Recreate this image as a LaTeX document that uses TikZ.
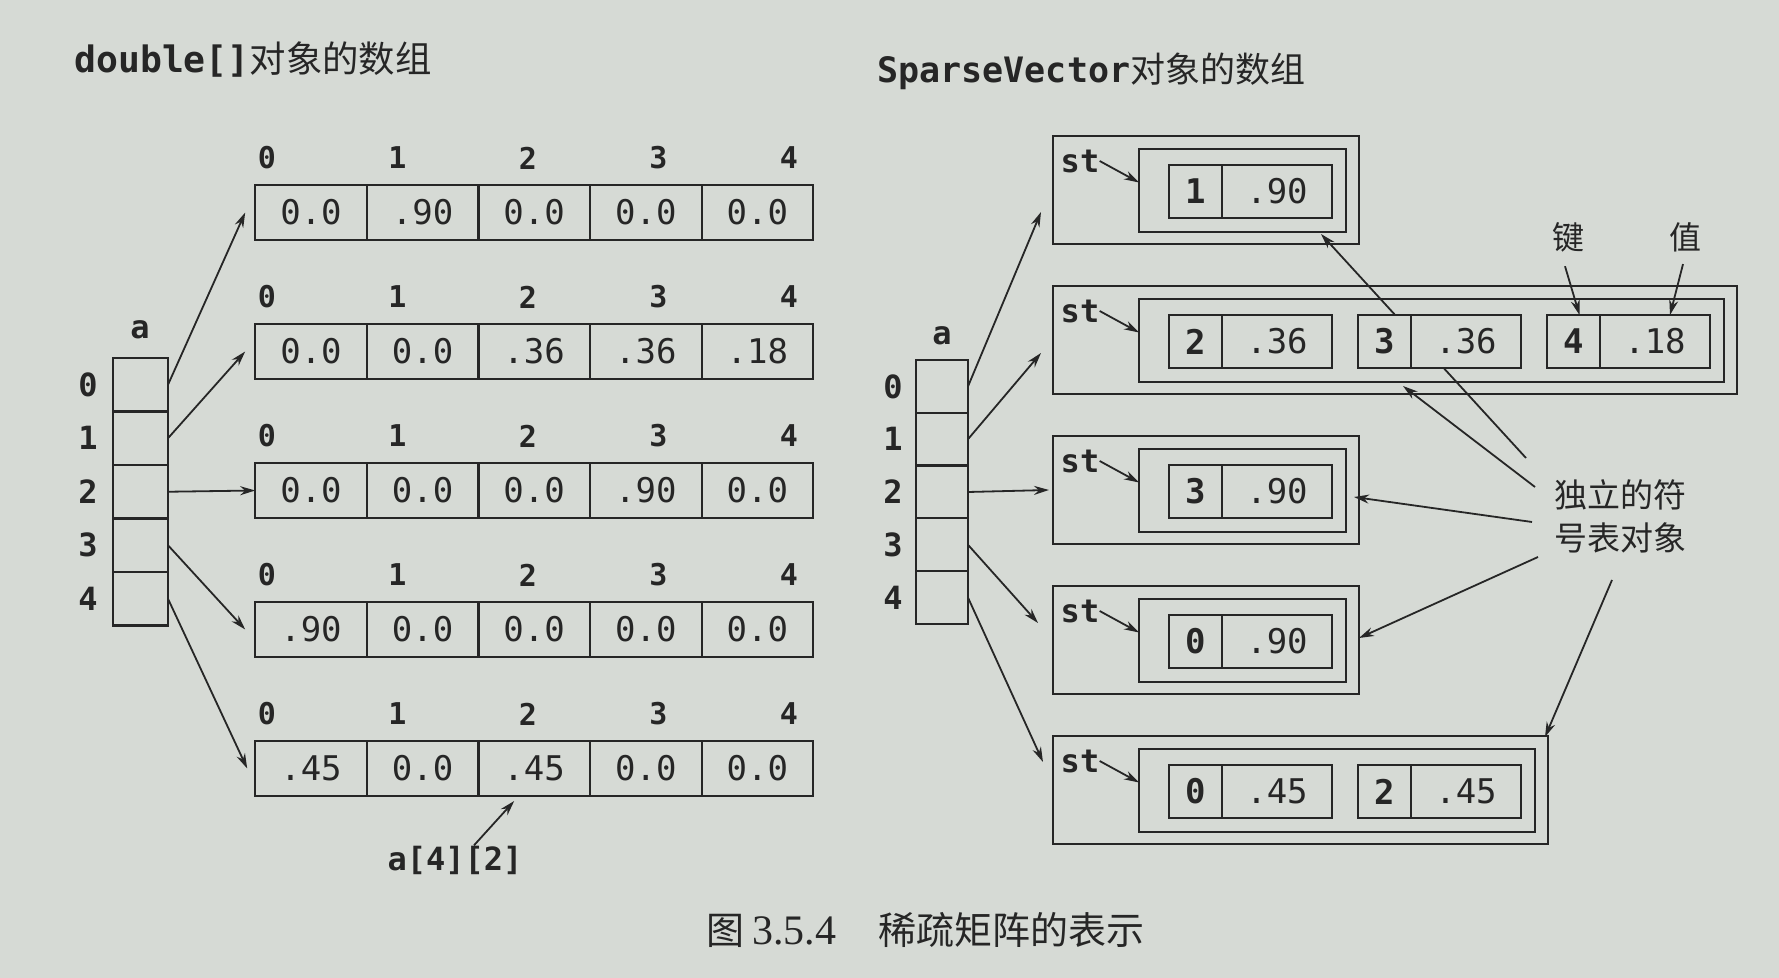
\documentclass[tikz,border=0pt]{standalone}
\usepackage{fontspec}
\newfontfamily\mono{DejaVu Sans Mono}
\newfontfamily\cjk{Noto Sans CJK SC}
\newfontfamily\capserif{Liberation Serif}
\usetikzlibrary{arrows.meta,calc}
\definecolor{bg}{RGB}{214,218,213}
\definecolor{ink}{RGB}{38,38,38}
\begin{document}
\begin{tikzpicture}[x=0.5pt,y=-0.5pt,
  every node/.style={text=ink},
  box/.style={draw=ink,line width=1.1pt,inner sep=0pt,outer sep=0pt},
  cell/.style={box,minimum width=55.8pt,minimum height=27.5pt,font=\mono\fontsize{17}{17}\selectfont},
  idx/.style={inner sep=0pt,font=\mono\bfseries\fontsize{15}{15}\selectfont},
  aidx/.style={inner sep=0pt,font=\mono\bfseries\fontsize{16}{16}\selectfont},
  lab/.style={inner sep=0pt,font=\mono\bfseries\fontsize{16}{16}\selectfont},
  ptr/.style={box,minimum width=27.5pt,minimum height=26.75pt},
  ptrb/.style={box,minimum width=26pt,minimum height=26.4pt},
  kcell/.style={box,fill=bg,minimum width=26.5pt,minimum height=26.5pt,font=\mono\bfseries\fontsize{17}{17}\selectfont},
  vcell/.style={box,fill=bg,minimum width=55pt,minimum height=26.5pt,font=\mono\fontsize{17}{17}\selectfont},
  title/.style={inner sep=0pt,font=\mono\bfseries\fontsize{17.5}{17.5}\selectfont},
  cjklab/.style={inner sep=0pt,font=\cjk\fontsize{16}{16}\selectfont},
  note/.style={inner sep=0pt,align=center,font=\cjk\fontsize{16.5}{21.5}\selectfont},
  arr/.style={draw=ink,line width=0.9pt,-{Stealth[length=7.5pt,width=4.5pt]}}
]
\fill[bg] (0,0) rectangle (1779,978);
\useasboundingbox (0,0) rectangle (1779,978);

% titles
\node[title,anchor=west,font=\mono\bfseries\fontsize{18.2}{18.2}\selectfont] (T1) at (74,60) {double[]{\cjk\mdseries 对象的数组}};
\node[title,anchor=west] (T2) at (877,71) {SparseVector{\cjk\mdseries 对象的数组}};

% left: double[][] arrays
\foreach \r/\vals in {0/{0.0,.90,0.0,0.0,0.0},1/{0.0,0.0,.36,.36,.18},2/{0.0,0.0,0.0,.90,0.0},3/{.90,0.0,0.0,0.0,0.0},4/{.45,0.0,.45,0.0,0.0}}{
  \foreach \v [count=\c from 0] in \vals {
    \node[cell] (L\r-\c) at ({311+111.6*\c},{212.5+139*\r}) {\v};
    \node[idx] (Li\r-\c) at ({267+130.5*\c},{158+139*\r}) {\c};
  }
}
\foreach \i in {0,...,4} {
  \node[ptr] (A\i) at (140.5,{384.75+53.5*\i}) {};
  \node[aidx] (Ai\i) at (88,{384.75+53.5*\i}) {\i};
}
\node[lab] (Aa) at (140,330) {a};
\draw[arr] (A0.east) -- ([xshift=-5pt]L0-0.west);
\draw[arr] (A1.east) -- ([xshift=-5pt]L1-0.west);
\draw[arr] (A2.east) -- (L2-0.west);
\draw[arr] (A3.east) -- ([xshift=-5pt]L3-0.west);
\draw[arr] (A4.east) -- ([xshift=-4pt]L4-0.west);
\node[lab] (Q) at (455,860) {a[4][2]};
\draw[arr] ([xshift=9.5pt]Q.north) -- ([xshift=-10pt,yshift=-2.5pt]L4-2.south);

% right: label arrows (drawn first, entries cover them)
\node[note] (T) at (1620,516) {独立的符\\号表对象};
\coordinate (t1) at (1526,458); \coordinate (e1) at (1321,234);
\coordinate (t2) at (1535,487); \coordinate (e2) at (1403,386);
\coordinate (t3) at (1532,522); \coordinate (e3) at (1354,497);
\coordinate (t4) at (1538,557); \coordinate (e4) at (1359,638);
\coordinate (t5) at (1612,580); \coordinate (e5) at (1545,737);
\foreach \j in {1,...,5} { \draw[arr] (t\j) -- (e\j); }

% right: SparseVector objects
\foreach \i/\n/\ents in {0/1/{1/.90},1/3/{2/.36,3/.36,4/.18},2/1/{3/.90},3/1/{0/.90},4/2/{0/.45,2/.45}} {
  \pgfmathsetmacro\ytop{136+150*\i}
  \pgfmathsetmacro\ow{(306+189*(\n-1))/2}
  \pgfmathsetmacro\iw{(207+189*(\n-1))/2}
  \node[box,anchor=north west,minimum width=\ow pt,minimum height=54pt] (O\i) at (1053,\ytop) {};
  \node[box,anchor=north west,minimum width=\iw pt,minimum height=41.5pt] (I\i) at (1139,{\ytop+13}) {};
  \foreach \k/\w [count=\e from 0] in \ents {
    \node[kcell,anchor=north west] (E\i-\e-k) at ({1169+189*\e},{\ytop+29}) {\k};
    \node[vcell,anchor=west] (E\i-\e-v) at (E\i-\e-k.east) {\w};
  }
  \node[lab] (S\i) at (1080,{\ytop+25}) {st};
  \draw[arr] (S\i.east) -- ([yshift=4pt]I\i.west);
}

% right pointer array
\foreach \i in {0,...,4} {
  \node[ptrb] (B\i) at (942,{386.4+52.8*\i}) {};
  \node[aidx] (Bi\i) at (893,{386.4+52.8*\i}) {\i};
}
\node[lab] (Ba) at (942,336) {a};
\draw[arr] (B0.east) -- ([xshift=-6pt,yshift=-11pt]O0.west);
\draw[arr] (B1.east) -- ([xshift=-6pt,yshift=-6.5pt]O1.west);
\draw[arr] (B2.east) -- ([xshift=-2pt]O2.west);
\draw[arr] (B3.east) -- ([xshift=-7.5pt,yshift=8.5pt]O3.west);
\draw[arr] (B4.east) -- ([xshift=-5pt,yshift=14pt]O4.west);

% key / value labels
\node[cjklab] (K) at (1568,237) {键};
\node[cjklab] (V) at (1685,237) {值};
\draw[arr] ([xshift=-1.5pt,yshift=-7pt]K.south) -- ([xshift=3pt]E1-2-k.north);
\draw[arr] ([xshift=-1pt,yshift=-6pt]V.south) -- ([xshift=7.5pt]E1-2-v.north);

% caption
\node[inner sep=0pt,font=\fontsize{19}{19}\selectfont] (C) at (925,930) {{\cjk 图}\hspace{4pt}{\capserif\fontsize{21}{21}\selectfont 3.5.4}\hspace{21pt}{\cjk 稀疏矩阵的表示}};
\end{tikzpicture}
\end{document}
